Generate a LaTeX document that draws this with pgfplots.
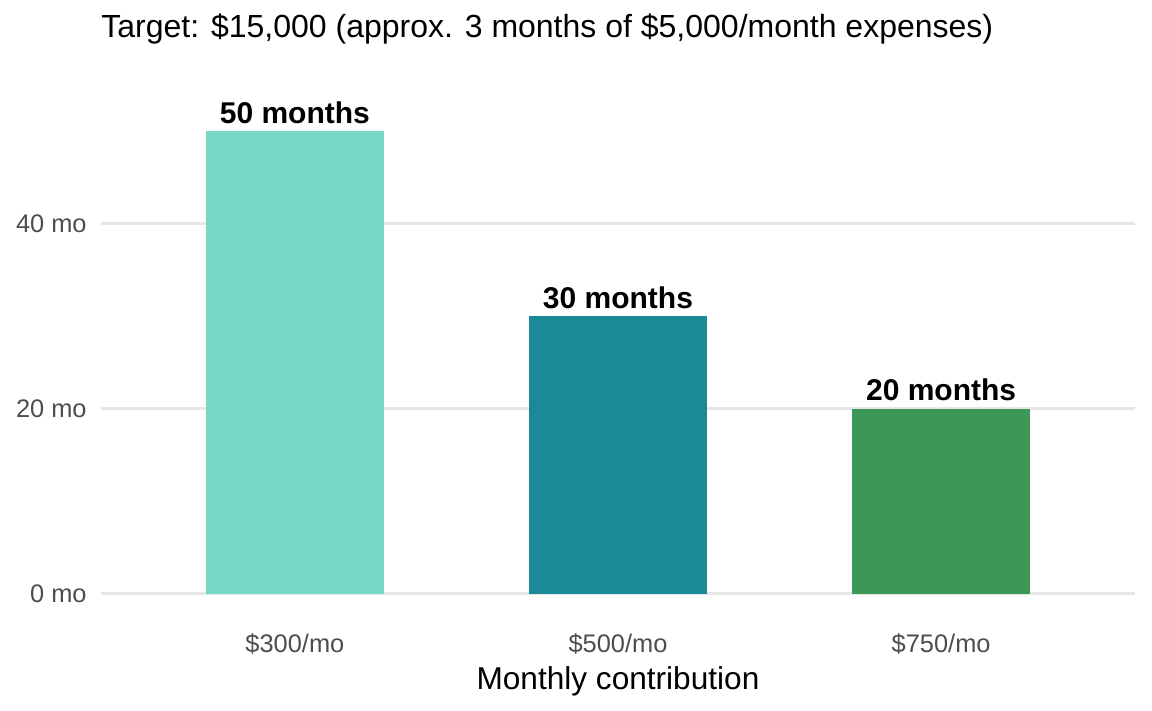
\documentclass[border=0pt]{standalone}
\usepackage{fontspec}
\setmainfont{Liberation Sans}
\usepackage{pgfplots}
\pgfplotsset{compat=1.18}
\definecolor{c1}{HTML}{76D7C4}
\definecolor{c2}{HTML}{1A8A98}
\definecolor{c3}{HTML}{3D9858}
\definecolor{gridc}{HTML}{E6E6E6}
\definecolor{tickc}{HTML}{4D4D4D}
\begin{document}
\begin{tikzpicture}
\path[use as bounding box] (0,0) rectangle (576pt,355.5pt);
\begin{axis}[
  at={(50.5pt,47pt)}, anchor=south west,
  scale only axis, width=517pt, height=254.5pt,
  xmin=0.4, xmax=3.6, ymin=-2.5, ymax=52.5,
  axis line style={draw=none}, clip=false,
  ybar, bar width=0.55, bar shift=0pt,
  xtick={1,2,3}, xticklabels={\$300/mo,\$500/mo,\$750/mo},
  ytick={0,20,40}, yticklabels={0 mo,20 mo,40 mo},
  major tick length=0pt, tick style={draw=none},
  ymajorgrids, xmajorgrids=false,
  grid style={gridc, line width=1.4pt},
  ticklabel style={font=\fontsize{12.7}{14}\selectfont, text=tickc},
  yticklabel style={anchor=east, inner sep=0pt, xshift=-7pt},
  xticklabel style={anchor=north, inner sep=0pt, yshift=-8pt},
  xlabel={Monthly contribution},
  xlabel style={at={(axis description cs:0.5,0)}, anchor=base, inner sep=0pt, yshift=-36.5pt, font=\fontsize{15.8}{18}\selectfont},
  nodes near coords={\pgfmathprintnumber[assume math mode=true]{\pgfplotspointmeta} months},
  nodes near coords style={anchor=base, inner sep=0pt, yshift=4pt, font=\fontsize{15}{18}\selectfont\bfseries, text=black},
  title={Target: \$15,000 (approx. 3 months of \$5,000/month expenses)},
  title style={at={(axis description cs:0,1)}, anchor=base west, inner sep=0pt, yshift=29pt, font=\fontsize{16}{18}\selectfont},
]
\addplot[fill=c1, draw=none] coordinates {(1,50)};
\addplot[fill=c2, draw=none] coordinates {(2,30)};
\addplot[fill=c3, draw=none] coordinates {(3,20)};
\end{axis}
\end{tikzpicture}
\end{document}
